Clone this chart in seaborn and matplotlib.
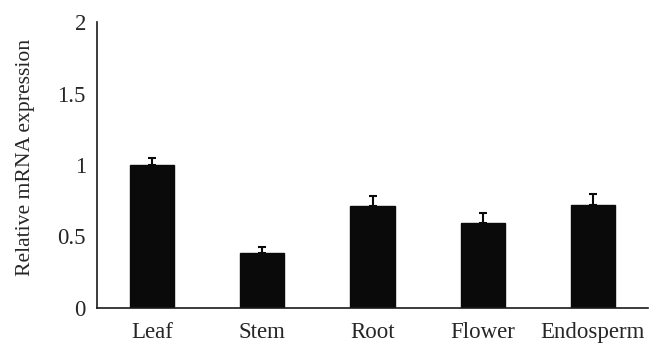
import matplotlib
matplotlib.use("Agg")
import matplotlib.pyplot as plt
import seaborn as sns
import numpy as np
import pandas as pd

categories = ["Leaf", "Stem", "Root", "Flower", "Endosperm"]
values = [1.0, 0.385, 0.713, 0.596, 0.72]
errors = [0.05, 0.042, 0.07, 0.068, 0.075]
yticks = [0, 0.5, 1, 1.5, 2]
ytick_labels = ["0", "0.5", "1", "1.5", "2"]

sns.set_style("white")
plt.rcParams["font.family"] = ["Liberation Serif", "DejaVu Serif"]

fig = plt.figure(figsize=(6.62, 3.57), dpi=100)
ax = fig.add_axes([97/662, 1-308/357, (648-97)/662, (308-22)/357])

df = pd.DataFrame({"cat": categories, "val": values})
sns.barplot(data=df, x="cat", y="val", color="#0a0a0a", width=0.4,
            edgecolor="#0a0a0a", saturation=1, errorbar=None, ax=ax)
xs = np.arange(len(categories))
ax.errorbar(xs, values, yerr=[np.zeros(len(errors)), errors], fmt="none",
            ecolor="#0a0a0a", elinewidth=1.5, capsize=2.6, capthick=1.5)

ax.set_xlim(-0.5, len(categories) - 0.5)
ax.set_ylim(0, 2)
ax.set_yticks(yticks)
ax.set_yticklabels(ytick_labels, fontsize=16.5)
ax.set_xticks(xs)
ax.set_xticklabels(categories, fontsize=16.5)
ax.set_xticks(np.arange(len(categories)) + 0.5, minor=True)
ax.tick_params(axis="x", which="major", length=0, pad=10)
ax.tick_params(axis="x", which="minor", length=4, width=1.2, direction="out", color="#1a1a1a")
ax.tick_params(axis="y", which="major", length=5, width=1.2, direction="out", color="#1a1a1a", pad=3)
ax.set_xlabel("")
ax.set_ylabel("Relative mRNA expression", fontsize=15.6)
ax.yaxis.set_label_coords(-0.112, 0.528)

sns.despine(ax=ax)
for s in ["left", "bottom"]:
    ax.spines[s].set_linewidth(1.2)
    ax.spines[s].set_color("#1a1a1a")

fig.savefig("out.png", dpi=100)
